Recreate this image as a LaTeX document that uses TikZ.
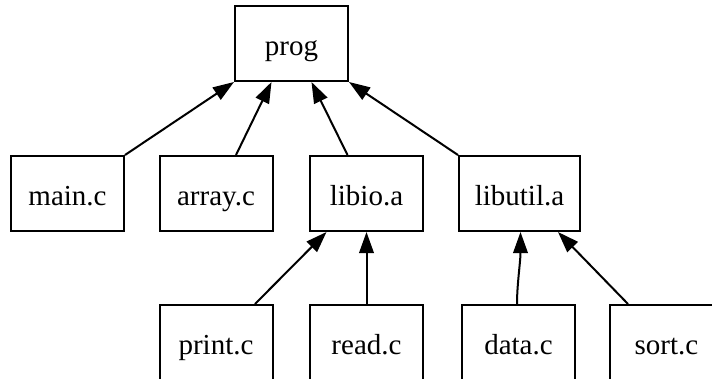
\documentclass[tikz,border=0pt]{standalone}
\usepackage{fontspec}
\setmainfont{Liberation Serif}
\newfontfamily\tmsfont{Liberation Serif}
\usetikzlibrary{arrows.meta}
\begin{document}
\begin{tikzpicture}[x=1pt,y=-1pt,
  box/.style={draw, line width=2pt, minimum width=113pt, minimum height=75pt,
    inner sep=0pt, text height=23pt, text depth=0pt,
    font=\tmsfont\fontsize{29}{34}\selectfont},
  dep/.style={line width=2pt, -{Triangle[length=21pt,width=14.5pt]}}]
\useasboundingbox (0,0) rectangle (712,378);
\clip (0,0) rectangle (712,378);
% row 1
\node[box] (prog) at (291.5,43.5) {prog};
% row 2
\node[box] (main) at (67.5,193.5) {main.c};
\node[box] (array) at (216,193.5) {array.c};
\node[box] (libio) at (366.5,193.5) {libio.a};
\node[box, minimum width=121pt] (libutil) at (519.5,193.5) {libutil.a};
% row 3
\node[box] (print) at (216,342.5) {print.c};
\node[box] (read) at (366.5,342.5) {read.c};
\node[box] (data) at (518.5,342.5) {data.c};
\node[box] (sort) at (666.5,342.5) {sort.c};
% edges
\draw[dep] (main.north east) -- (prog.south west);
\draw[dep] ([xshift=20pt]array.north) -- ([xshift=-20pt]prog.south);
\draw[dep] ([xshift=-19pt]libio.north) -- ([xshift=20pt]prog.south);
\draw[dep] (libutil.north west) -- (prog.south east);
\draw[dep] ([xshift=39pt]print.north) -- ([xshift=-40pt]libio.south);
\draw[dep] (read.north) -- (libio.south);
\draw[dep] ([xshift=-1.5pt]data.north) .. controls ([xshift=-1.5pt,yshift=20pt]data.north) and ([xshift=1pt,yshift=-30pt]libutil.south) .. ([xshift=1pt]libutil.south);
\draw[dep] ([xshift=-38.5pt]sort.north) -- ([xshift=38.5pt]libutil.south);
\end{tikzpicture}
\end{document}
